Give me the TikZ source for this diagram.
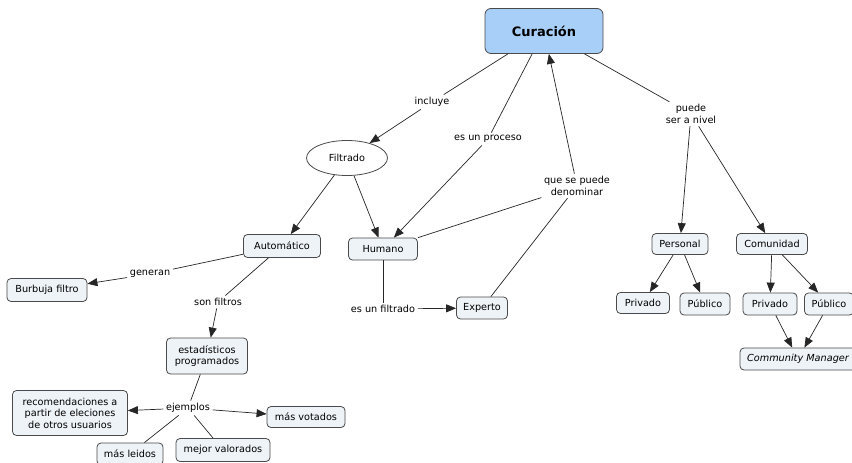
\documentclass[tikz,border=0pt]{standalone}
\usepackage{fontspec}
\setmainfont{DejaVu Sans}
\usetikzlibrary{arrows.meta,shapes.geometric}
\definecolor{boxfill}{HTML}{EEF3F7}
\definecolor{boxdraw}{HTML}{4A4A4A}
\definecolor{topfill}{HTML}{A8CFF8}
\begin{document}
\begin{tikzpicture}[x=1pt,y=-1pt,
  concept/.style={draw=boxdraw, fill=boxfill, rounded corners=4pt, line width=0.8pt, inner sep=0pt, font=\fontsize{9.7}{11.5}\selectfont, align=center},
  lbl/.style={inner sep=2.5pt, font=\fontsize{9.7}{11.5}\selectfont, align=center},
  conn/.style={draw=black!85, line width=0.7pt},
  arr/.style={conn, -{Triangle[length=10pt,width=8pt]}},
]
\fill[white] (0,0) rectangle (852,463);
\useasboundingbox (0,0) rectangle (852,463);

% concepts
\node[concept, fill=topfill, minimum width=118, minimum height=45, rounded corners=6pt, font=\bfseries\fontsize{13}{15}\selectfont] (cur) at (544,31) {Curación};
\node[draw=boxdraw, fill=white, ellipse, line width=0.8pt, minimum width=81, minimum height=35, inner sep=0pt, font=\fontsize{9.7}{11.5}\selectfont] (filt) at (347,158) {Filtrado};
\node[concept, minimum width=77, minimum height=23] (auto) at (282,246) {Automático};
\node[concept, minimum width=69, minimum height=22] (hum) at (383,249) {Humano};
\node[concept, minimum width=51, minimum height=22] (exp) at (482,308) {Experto};
\node[concept, minimum width=80, minimum height=23] (burb) at (47,290) {Burbuja filtro};
\node[concept, minimum width=81, minimum height=36] (estad) at (207,356) {estadísticos\\programados};
\node[concept, minimum width=115, minimum height=45] (recom) at (70,413) {recomendaciones a\\partir de eleciones\\de otros usuarios};
\node[concept, minimum width=78, minimum height=21] (vot) at (306,417) {más votados};
\node[concept, minimum width=66, minimum height=22] (leid) at (130,454) {más leidos};
\node[concept, minimum width=94, minimum height=23] (mejor) at (223,450) {mejor valorados};
\node[concept, minimum width=56, minimum height=21] (pers) at (680,244) {Personal};
\node[concept, minimum width=71, minimum height=21] (com) at (772,244) {Comunidad};
\node[concept, minimum width=53, minimum height=21] (priv1) at (643,303) {Privado};
\node[concept, minimum width=50, minimum height=22] (pub1) at (705,304) {Público};
\node[concept, minimum width=54, minimum height=22] (priv2) at (770,304) {Privado};
\node[concept, minimum width=49, minimum height=22] (pub2) at (829,304) {Público};
\node[concept, minimum width=116, minimum height=22, font=\itshape\fontsize{9.7}{11.5}\selectfont] (cm) at (798,359) {Community Manager};

% linking labels
\node[lbl] (incl) at (432,102) {incluye};
\node[lbl] (esproc) at (488,139) {es un proceso};
\node[lbl] (quese) at (577,186) {que se puede\\denominar};
\node[lbl] (puede) at (691,114) {puede\\ser a nivel};
\node[lbl] (gen) at (150,274) {generan};
\node[lbl] (sonf) at (218,302) {son filtros};
\node[lbl] (esfil) at (383,309) {es un filtrado};
\node[lbl] (ejem) at (188,408) {ejemplos};

% connectors
\draw[conn] (cur) -- (incl);
\draw[arr] (incl) -- (filt);
\draw[conn] (cur) -- (esproc);
\draw[arr] (esproc) -- (hum);
\draw[conn] (hum) -- (quese);
\draw[conn] (exp) -- (quese);
\draw[arr] (quese) -- (cur);
\draw[conn] (cur) -- (puede);
\draw[arr] (puede) -- (pers);
\draw[arr] (puede) -- (com);
\draw[arr] (filt) -- (auto);
\draw[arr] (filt) -- (hum);
\draw[conn] (auto) -- (gen);
\draw[arr] (gen) -- (burb);
\draw[conn] (auto) -- (sonf);
\draw[arr] (sonf) -- (estad);
\draw[conn] (hum) -- (esfil);
\draw[arr] (esfil) -- (exp);
\draw[conn] (estad) -- (ejem);
\draw[arr] (ejem) -- (recom);
\draw[arr] (ejem) -- (vot);
\draw[conn] (ejem) -- (leid);
\draw[conn] (ejem) -- (mejor);
\draw[arr] (pers) -- (priv1);
\draw[arr] (pers) -- (pub1);
\draw[arr] (com) -- (priv2);
\draw[arr] (com) -- (pub2);
\draw[arr] (priv2) -- (cm);
\draw[arr] (pub2) -- (cm);
\end{tikzpicture}
\end{document}
